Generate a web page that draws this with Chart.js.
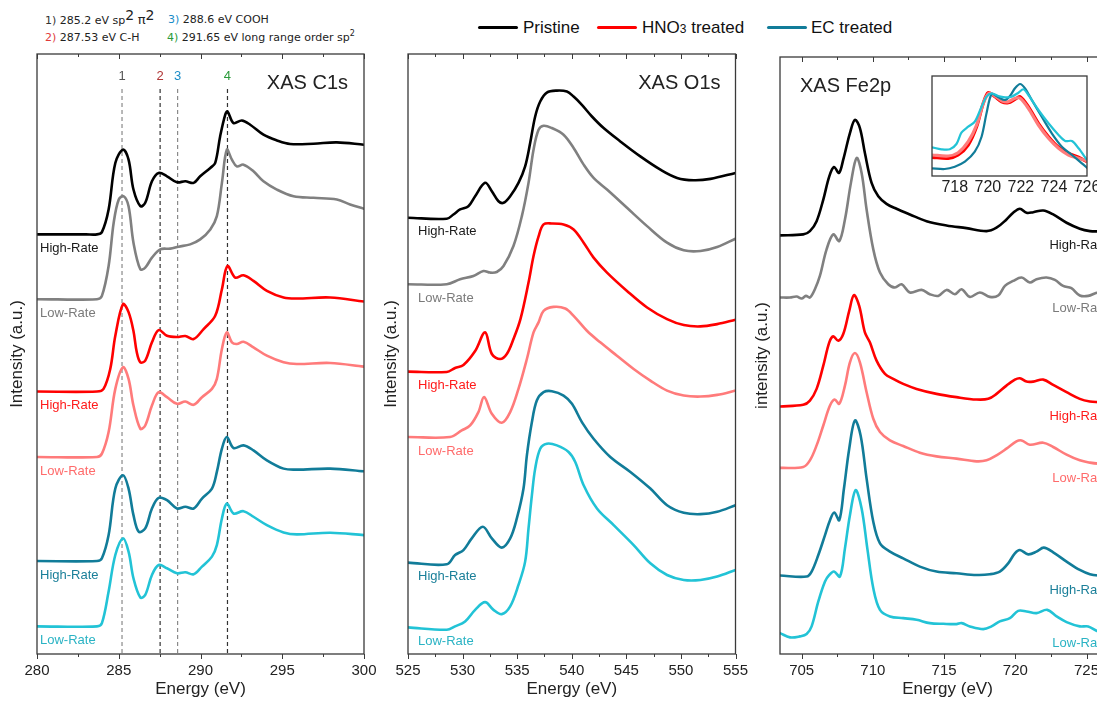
<!DOCTYPE html>
<html><head><meta charset="utf-8">
<script src="https://cdn.jsdelivr.net/npm/chart.js@4.4.1/dist/chart.umd.min.js"></script>
<style>
html,body{margin:0;padding:0;background:#fff;}
#wrap{position:relative;width:1097px;height:706px;overflow:hidden;background:#fff;}
canvas{position:absolute;left:0;top:0;}
.hdr{position:absolute;font-family:'DejaVu Sans',sans-serif;font-size:11px;color:#222;white-space:nowrap;line-height:13px;}
.big{font-size:14px;position:relative;top:-4px;}
.pi{font-size:13px;}
.small{font-size:8px;position:relative;top:-5px;}
.leg{position:absolute;top:18px;font-family:'Liberation Sans',Arial,sans-serif;font-size:17px;color:#111;white-space:nowrap;line-height:20px;}
.sub{font-size:12px;}
.sw{position:absolute;height:3px;top:26px;width:40px;border-radius:1.5px;}
</style>
</head><body>
<div id="wrap">
  <div class="hdr" style="left:45px;top:13px;"><span style="color:#333">1)</span> 285.2 eV sp<span class="big">2</span> <span class="pi">π</span><span class="big">2</span></div>
  <div class="hdr" style="left:168px;top:13px;"><span style="color:#1a8cc8">3)</span> 288.6 eV COOH</div>
  <div class="hdr" style="left:45px;top:31px;"><span style="color:#e03a3a">2)</span> 287.53 eV C-H</div>
  <div class="hdr" style="left:167px;top:31px;"><span style="color:#2a9a3a">4)</span> 291.65 eV long range order sp<span class="small">2</span></div>

  <div class="sw" style="left:478px;background:#000;"></div>
  <div class="leg" style="left:523px;">Pristine</div>
  <div class="sw" style="left:597px;background:#ff0000;"></div>
  <div class="leg" style="left:642px;">HNO<span class="sub">3</span> treated</div>
  <div class="sw" style="left:767px;background:#117c99;"></div>
  <div class="leg" style="left:811px;">EC treated</div>

  <canvas id="c1" width="1140" height="706"></canvas>
  <canvas id="c2" width="1140" height="706"></canvas>
  <canvas id="c3" width="1140" height="706"></canvas>
  <canvas id="c4" width="1140" height="706"></canvas>
</div>
<script>
// ---------------- DATA (energy eV, intensity a.u. incl. stacking offset) ----------------
const c1sPristineHigh = [[280,42.0],[283.0,42.0],[283.67,42.0],[283.97,42.23],[284.38,44.5],[284.79,49.17],[285.26,50.5],[285.6,49.5],[285.9,46.5],[286.32,44.83],[286.62,45.17],[287.03,47.33],[287.44,48.17],[287.95,47.83],[288.56,47.23],[289.07,47.33],[289.58,47.17],[289.98,47.83],[290.6,48.67],[290.9,49.17],[291.2,51.83],[291.51,54.0],[291.65,54.33],[292.02,53.17],[292.53,53.43],[293.04,53.0],[293.85,52.0],[294.67,51.43],[295.48,51.07],[296.91,51.1],[298.34,51.23],[300,51.0]];
const c1sPristineLow = [[280,35.5],[283.67,35.5],[283.97,35.83],[284.38,38.83],[284.69,43.17],[285.0,45.5],[285.3,45.83],[285.6,44.83],[285.9,41.17],[286.32,38.5],[286.62,38.67],[287.03,39.67],[287.54,40.5],[288.15,40.57],[288.66,40.77],[289.37,41.0],[289.98,41.5],[290.6,42.5],[291.0,43.83],[291.31,47.17],[291.61,50.5],[291.92,49.5],[292.22,48.83],[292.63,49.0],[293.24,48.33],[293.85,47.33],[294.67,46.5],[295.69,45.83],[296.91,45.67],[298.34,45.5],[299.15,45.0],[300,44.57]];
const c1sHno3High = [[280,26.23],[283.67,26.23],[284.07,26.5],[284.48,28.5],[284.79,31.83],[285.26,35.0],[285.6,34.2],[285.9,32.3],[286.1,30.2],[286.32,29.17],[286.62,29.33],[287.03,31.17],[287.44,32.4],[287.95,31.83],[288.56,31.7],[289.07,31.8],[289.58,31.5],[290.19,32.5],[290.9,33.83],[291.31,36.5],[291.65,38.83],[292.12,37.67],[292.63,37.9],[293.24,37.33],[294.06,36.33],[295.08,35.67],[295.89,35.57],[297.93,35.67],[300,35.27]];
const c1sHno3Low = [[280,19.67],[283.67,19.67],[283.97,20.0],[284.38,22.17],[284.79,26.5],[285.26,28.67],[285.6,27.5],[285.9,24.83],[286.32,22.5],[286.62,22.83],[287.03,24.83],[287.44,26.17],[287.95,25.67],[288.56,25.0],[289.07,25.23],[289.58,24.9],[290.09,25.67],[290.7,26.5],[291.0,27.5],[291.31,30.5],[291.61,32.17],[291.92,31.17],[292.22,31.0],[292.63,31.23],[293.24,30.67],[294.06,29.83],[295.08,29.17],[295.89,29.0],[297.93,29.1],[300,28.73]];
const c1sEcHigh = [[280,9.23],[283.67,9.23],[283.97,9.5],[284.38,11.83],[284.79,16.5],[285.26,17.83],[285.6,16.5],[285.9,13.83],[286.22,12.17],[286.62,12.5],[287.03,14.5],[287.44,15.57],[287.95,15.33],[288.56,14.5],[289.07,14.67],[289.58,14.5],[290.09,15.5],[290.7,16.5],[291.0,18.17],[291.31,20.5],[291.61,21.67],[292.02,20.57],[292.63,20.83],[293.24,20.33],[294.06,19.33],[295.08,18.5],[295.89,18.4],[297.93,18.5],[300,18.23]];
const c1sEcLow = [[280,2.67],[283.67,2.67],[283.97,3.0],[284.38,6.17],[284.79,9.83],[285.26,11.5],[285.6,10.17],[285.9,7.5],[286.32,5.57],[286.62,5.83],[287.03,7.83],[287.44,8.83],[287.95,8.5],[288.56,8.0],[289.07,8.1],[289.58,7.9],[290.09,8.67],[290.7,9.67],[291.0,10.83],[291.31,13.5],[291.61,15.0],[292.02,14.0],[292.63,14.23],[293.24,13.67],[294.06,12.83],[295.08,12.1],[295.89,11.9],[297.93,12.07],[300,11.83]];

const o1sPristineHigh = [[525,43.67],[528.55,43.57],[529.16,44.0],[529.77,44.5],[530.53,44.83],[531.15,45.83],[532.06,47.17],[532.68,46.33],[533.29,45.33],[533.75,45.17],[534.36,45.83],[535.12,47.17],[535.73,48.83],[536.19,51.17],[536.65,53.83],[537.11,55.33],[537.72,56.23],[538.64,56.43],[539.56,56.33],[540.17,55.83],[540.93,55.0],[541.85,53.83],[542.92,52.67],[544.45,51.33],[546.28,49.83],[548.12,48.5],[549.65,47.67],[551.18,47.43],[552.71,47.57],[555,48.17]];
const o1sPristineLow = [[525,37.0],[528.55,37.0],[529.77,37.5],[530.99,37.83],[531.91,38.33],[532.52,38.17],[533.13,38.23],[533.75,38.83],[534.66,40.83],[535.43,43.83],[536.04,47.17],[536.5,50.5],[536.96,52.5],[537.42,52.9],[538.18,52.67],[539.25,52.0],[540.17,50.67],[541.09,49.0],[542.0,47.67],[543.23,46.5],[545.06,44.67],[546.9,42.83],[548.73,41.17],[550.26,40.4],[551.79,40.33],[553.32,40.73],[555,41.57]];
const o1sHno3High = [[525,28.23],[528.55,28.2],[529.31,28.6],[530.08,28.9],[531.15,30.3],[532.06,32.17],[532.68,30.0],[533.44,29.5],[534.05,30.0],[534.66,31.5],[535.3,33.5],[536.04,37.17],[536.5,39.83],[536.96,41.8],[537.42,43.0],[538.18,43.1],[539.25,43.0],[540.17,42.5],[541.09,41.17],[542.0,39.67],[543.23,38.17],[545.06,36.33],[546.9,34.67],[548.73,33.5],[550.26,32.9],[551.79,32.77],[553.32,33.0],[555,33.43]];
const o1sHno3Low = [[525,21.67],[528.85,21.67],[529.92,22.33],[530.69,22.83],[531.45,24.17],[531.97,25.67],[532.68,24.0],[533.59,23.1],[534.36,24.17],[535.12,26.5],[535.89,29.5],[536.5,32.17],[536.96,33.17],[537.42,34.33],[538.33,34.73],[539.4,34.57],[540.17,33.83],[541.39,32.33],[542.61,31.17],[544.14,29.83],[545.67,28.5],[547.2,27.33],[548.73,26.33],[550.26,25.83],[551.79,25.73],[553.32,25.9],[555,26.33]];
const o1sEcHigh = [[525,9.07],[528.55,8.9],[529.31,9.83],[530.08,10.33],[530.84,11.5],[531.85,12.67],[532.68,11.5],[533.59,10.57],[534.36,11.5],[534.97,13.5],[535.58,16.5],[535.89,19.83],[536.35,23.17],[536.8,25.33],[537.42,26.17],[538.18,26.27],[539.25,25.83],[540.02,25.0],[540.93,23.17],[542.0,21.5],[543.53,19.67],[545.37,18.17],[547.2,16.5],[548.73,14.83],[550.26,14.07],[551.79,13.93],[553.32,14.17],[555,14.83]];
const o1sEcLow = [[525,2.57],[528.55,2.33],[529.31,2.67],[530.23,3.17],[531.15,4.33],[532.06,5.1],[532.83,4.33],[533.59,3.9],[534.36,4.67],[535.12,6.83],[535.73,9.17],[536.04,12.5],[536.35,15.83],[536.65,18.5],[537.11,20.5],[537.72,21.0],[538.64,20.83],[539.71,20.17],[540.32,19.17],[541.09,16.83],[542.31,14.5],[543.84,12.83],[545.67,10.83],[547.2,9.0],[548.73,7.83],[550.26,7.33],[551.79,7.33],[553.32,7.67],[555,8.33]];

const fe2pPristineHigh = [[703.48,41.9],[705.11,42.0],[705.58,42.33],[706.05,43.33],[706.52,45.5],[706.94,47.83],[707.27,48.77],[707.62,48.17],[707.92,49.5],[708.39,52.17],[708.74,53.5],[709.09,52.67],[709.44,50.17],[709.91,47.17],[710.38,45.83],[710.96,45.07],[711.66,44.57],[712.6,44.0],[713.77,43.33],[715.17,42.9],[716.57,42.63],[717.98,42.33],[718.68,42.67],[719.38,43.5],[719.85,44.17],[720.32,44.57],[720.79,44.17],[721.26,44.23],[721.96,44.4],[722.66,44.0],[723.6,43.17],[724.53,42.57],[725.24,42.33],[725.82,42.3],[727,42.3]];
const fe2pPristineLow = [[703.48,35.67],[704.18,35.67],[704.65,35.77],[705.0,35.57],[705.3,35.83],[705.58,35.67],[705.93,36.5],[706.28,37.83],[706.75,40.5],[707.22,42.0],[707.64,41.33],[708.04,43.5],[708.46,47.17],[708.86,49.67],[709.21,48.17],[709.56,44.5],[710.03,40.5],[710.5,38.17],[711.08,37.0],[711.55,36.67],[712.02,37.0],[712.6,36.17],[713.42,36.43],[714.0,36.0],[714.59,35.83],[715.17,36.43],[715.76,36.0],[716.23,36.5],[716.81,35.73],[717.51,36.17],[718.21,35.73],[718.8,35.87],[719.27,36.83],[719.85,37.33],[720.44,37.67],[721.02,37.17],[721.49,37.5],[722.19,37.67],[722.78,37.43],[723.36,36.83],[723.94,36.6],[724.53,35.87],[725.12,35.83],[725.82,36.17],[727,36.0]];
const fe2pHno3High = [[703.48,24.73],[705.11,24.9],[705.58,25.33],[706.05,26.5],[706.52,28.83],[706.94,31.17],[707.22,31.77],[707.57,31.33],[707.92,32.0],[708.34,34.33],[708.67,35.9],[709.04,34.83],[709.44,32.17],[709.79,31.17],[710.26,29.33],[710.85,28.0],[711.43,27.5],[712.13,27.0],[713.07,26.5],[714.47,26.0],[715.87,25.67],[717.28,25.43],[718.1,25.5],[718.68,26.0],[719.38,26.83],[719.97,27.43],[720.32,27.57],[720.79,27.23],[721.26,27.23],[721.96,27.43],[722.66,26.9],[723.6,26.17],[724.53,25.5],[725.24,25.23],[725.82,25.17],[727,25.1]];
const fe2pHno3Low = [[703.48,18.57],[705.11,18.67],[705.58,19.33],[706.05,20.83],[706.52,22.83],[706.99,24.83],[707.32,25.43],[707.64,25.0],[708.04,26.83],[708.39,29.17],[708.74,30.1],[709.09,29.17],[709.56,26.17],[710.03,23.5],[710.5,22.17],[711.2,21.33],[712.13,20.77],[713.3,20.1],[714.47,19.73],[715.87,19.5],[717.28,19.23],[717.98,19.33],[718.68,19.83],[719.38,20.5],[720.08,21.23],[720.44,21.33],[721.02,20.9],[721.96,21.1],[722.66,20.67],[723.6,19.9],[724.53,19.33],[725.24,19.1],[725.82,19.0],[727,18.95]];
const fe2pEcHigh = [[703.48,7.77],[705.35,7.67],[705.7,8.17],[706.17,9.83],[706.64,11.83],[706.99,13.33],[707.29,14.1],[707.64,13.33],[707.97,16.5],[708.34,20.5],[708.74,23.33],[709.14,21.83],[709.56,17.5],[710.03,13.17],[710.5,11.0],[711.2,10.17],[712.13,9.5],[713.3,8.67],[714.47,8.17],[715.87,8.0],[717.28,7.83],[718.21,7.9],[718.91,8.17],[719.5,9.0],[719.97,10.0],[720.32,10.33],[720.91,9.9],[721.49,10.17],[722.0,10.57],[722.66,10.1],[723.6,9.17],[724.53,8.33],[725.24,7.9],[725.82,7.77],[727,7.7]];
const fe2pEcLow = [[703.48,2.0],[704.18,1.57],[704.88,1.67],[705.35,1.9],[705.7,2.67],[706.17,5.17],[706.64,7.17],[706.94,7.83],[707.27,8.17],[707.69,7.67],[708.04,10.5],[708.39,13.83],[708.79,16.33],[709.21,14.5],[709.61,10.5],[710.03,6.5],[710.5,4.33],[711.2,3.67],[712.13,3.5],[713.07,3.33],[714.0,3.0],[714.94,2.93],[715.87,2.9],[716.23,3.0],[716.81,2.67],[717.75,2.4],[718.33,2.67],[718.91,3.17],[719.62,3.5],[720.2,4.23],[720.79,4.17],[721.49,4.0],[722.24,4.33],[722.9,3.67],[723.6,3.1],[724.53,2.67],[725.12,2.67],[725.82,2.17],[727,2.0]];

const insetHno3High = [[716.62,18.7],[717.6,17.7],[718.2,21],[718.81,31],[719.32,49.3],[719.72,72.7],[720.02,83.3],[720.43,79.3],[720.83,74.3],[721.24,73.3],[721.64,76.7],[721.95,79.3],[722.45,69.3],[723.06,52.7],[723.67,39.3],[724.28,28.7],[724.88,22.7],[725.49,18.7],[726.0,14.3]];
const insetHno3Low = [[716.62,21],[717.6,20],[718.2,23.3],[718.81,34.3],[719.32,51],[719.72,72.7],[720.06,82.7],[720.43,80],[720.83,75.3],[721.24,74.3],[721.64,77.7],[721.95,77.7],[722.45,67.7],[723.06,51],[723.67,37.7],[724.28,27.7],[724.88,21],[725.49,17.7],[726.0,15.3]];
const insetEcHigh = [[716.62,7.67],[717.39,7.0],[718.0,9.33],[718.61,14.3],[719.21,24.3],[719.62,39.3],[719.92,62.7],[720.23,82],[720.63,78.7],[721.04,76],[721.34,80],[721.64,87.7],[721.95,92],[722.25,87.7],[722.66,76],[723.26,59.3],[723.87,42.7],[724.48,29.3],[725.09,21],[725.69,12.7],[726.04,7.67]];
const insetEcLow = [[716.62,28.7],[717.19,26.7],[717.7,26.7],[718.1,32],[718.4,43.3],[718.81,49.3],[719.21,54.3],[719.62,69.3],[719.92,79.3],[720.23,82.7],[720.63,80],[721.04,78.7],[721.44,79.3],[721.85,83.3],[722.15,86.7],[722.45,81],[723.06,66],[723.67,52.7],[724.28,41],[724.68,35],[725.09,35],[725.49,27.7],[726.0,16]];

const rateNames = ['High-Rate','Low-Rate','High-Rate','Low-Rate','High-Rate','Low-Rate'];
const peakEnergies = [285.2, 287.53, 288.6, 291.65];
const peakNumbers = ['1','2','3','4'];
const peakLineTop = 56.7;
const panelTitles = ['XAS C1s','XAS O1s','XAS Fe2p'];
const yTitles = ['Intensity (a.u.)','Intensity (a.u.)','intensity (a.u.)'];
const xTitle = 'Energy (eV)';

// ---------------- STYLE ----------------
const lineColors = ['#000000','#808080','#ff0000','#ff7b7b','#117c99','#22c3d6'];
const textColors = ['#1a1a1a','#7a7a7a','#ff1a1a','#ff6b6b','#1a7f99','#2ab3c4'];
const peakLineColors = ['#8a8a8a','#333333','#8a8a8a','#333333'];
const peakTextColors = ['#555555','#b03535','#1a8cc8','#2a9a3a'];
const FONT = "'Liberation Sans', Arial, sans-serif";
const W = 1140, H = 706;

Chart.defaults.font.family = FONT;
Chart.defaults.color = '#222';

function toXY(a){ return a.map(p => ({x:p[0], y:p[1]})); }
function fixW(w){ return s => { s.width = w; s.paddingTop = 0; s.paddingBottom = 0; }; }
function fixH(h){ return s => { s.height = h; s.paddingLeft = 0; s.paddingRight = 0; }; }

function decor(p){
  return {
    id: 'decor' + p.id,
    beforeDraw(chart){
      if (!p.fillWhite) return;
      const ca = chart.chartArea, ctx = chart.ctx;
      ctx.save(); ctx.fillStyle = '#fff';
      ctx.fillRect(ca.left, ca.top, ca.right - ca.left, ca.bottom - ca.top);
      ctx.restore();
    },
    afterDraw(chart){
      const ctx = chart.ctx, ca = chart.chartArea, xs = chart.scales.x, ys = chart.scales.y;
      ctx.save();
      ctx.strokeStyle = '#3a3a3a'; ctx.lineWidth = 1.3;
      ctx.strokeRect(ca.left, ca.top, ca.right - ca.left, ca.bottom - ca.top);
      if (p.minor) {
        ctx.lineWidth = 1;
        const start = Math.ceil(xs.min / p.minor - 1e-9) * p.minor;
        for (let v = start; v <= xs.max + 1e-9; v += p.minor) {
          const px = Math.round(xs.getPixelForValue(v)) + 0.5;
          const r = v / p.major;
          const isMajor = Math.abs(r - Math.round(r)) < 1e-6;
          const L = isMajor ? 5 : 3;
          ctx.beginPath();
          ctx.moveTo(px, ca.bottom); ctx.lineTo(px, ca.bottom + L);
          ctx.moveTo(px, ca.top); ctx.lineTo(px, ca.top + L);
          ctx.stroke();
        }
      }
      if (p.series) {
        ctx.font = '13px ' + FONT;
        ctx.textBaseline = 'middle';
        p.series.forEach((s, i) => {
          const pt = p.side === 'left' ? s[0] : s[s.length - 1];
          let y = ys.getPixelForValue(pt[1]) + 14;
          y = Math.min(y, ca.bottom - 11);
          ctx.fillStyle = textColors[i];
          if (p.side === 'left') { ctx.textAlign = 'left'; ctx.fillText(rateNames[i], ca.left + p.inset, y); }
          else { ctx.textAlign = 'right'; ctx.fillText(rateNames[i], ca.right - p.inset, y); }
        });
      }
      if (p.peaks) {
        ctx.font = '13px ' + FONT; ctx.textAlign = 'center'; ctx.textBaseline = 'middle';
        peakEnergies.forEach((e, i) => {
          ctx.fillStyle = peakTextColors[i];
          ctx.fillText(peakNumbers[i], xs.getPixelForValue(e), ys.getPixelForValue(peakLineTop) - 11);
        });
      }
      if (p.title) {
        ctx.font = '20px ' + FONT; ctx.fillStyle = '#222'; ctx.textBaseline = 'middle';
        if (p.titleAlign === 'right') { ctx.textAlign = 'right'; ctx.fillText(p.title, ca.right - p.titleDx, ca.top + 29); }
        else { ctx.textAlign = 'left'; ctx.fillText(p.title, ca.left + p.titleDx, ca.top + 29); }
      }
      ctx.restore();
    }
  };
}

function seriesDatasets(series, width){
  return series.map((s, i) => ({
    data: toXY(s), borderColor: lineColors[i], borderWidth: width, pointRadius: 0,
    tension: 0.35, fill: false, borderJoinStyle: 'round', borderCapStyle: 'round', order: 1
  }));
}

function makePanel(id, cfg){
  const datasets = seriesDatasets(cfg.series, 2.6).concat(cfg.extra || []);
  return new Chart(document.getElementById(id), {
    type: 'line',
    data: { datasets },
    plugins: [decor({ id, series: cfg.series, side: cfg.side, inset: cfg.inset, minor: cfg.minor, major: cfg.major,
                      peaks: cfg.peaks, title: cfg.title, titleAlign: cfg.titleAlign, titleDx: cfg.titleDx })],
    options: {
      responsive: false, animation: false, devicePixelRatio: 1, events: [],
      layout: { padding: { left: cfg.padLeft, top: cfg.top, right: W - cfg.right, bottom: 6 } },
      plugins: { legend: { display: false }, tooltip: { enabled: false } },
      scales: {
        x: { type: 'linear', min: cfg.xMin, max: cfg.xMax, afterFit: fixH(H - 6 - 654),
             grid: { display: false }, border: { display: false },
             ticks: { stepSize: cfg.major, includeBounds: false, padding: 0, maxRotation: 0, autoSkip: false,
                      color: '#222', font: { size: 15 }, callback: v => String(v) },
             title: { display: true, text: xTitle, color: '#222', font: { size: 17 }, padding: { top: 0, bottom: 0 } } },
        y: { min: -0.1, max: cfg.yMax, afterFit: fixW(cfg.yWidth),
             grid: { display: false }, border: { display: false }, ticks: { display: false },
             title: { display: true, text: cfg.yTitle, color: '#222', font: { size: 17 }, padding: { top: 7, bottom: 0 } } }
      }
    }
  });
}

const peakLineDatasets = peakEnergies.map((e, i) => ({
  data: [{x: e, y: 0}, {x: e, y: peakLineTop}], borderColor: peakLineColors[i], borderWidth: 1.2,
  borderDash: [4, 3], pointRadius: 0, fill: false, tension: 0, order: 10
}));

makePanel('c1', { series: [c1sPristineHigh, c1sPristineLow, c1sHno3High, c1sHno3Low, c1sEcHigh, c1sEcLow],
  xMin: 280, xMax: 300, major: 5, minor: 2.5, padLeft: 0, yWidth: 37, right: 364, top: 54, yMax: 60.1,
  yTitle: yTitles[0], side: 'left', inset: 3, peaks: true, extra: peakLineDatasets,
  title: panelTitles[0], titleAlign: 'right', titleDx: 16 });

makePanel('c2', { series: [o1sPristineHigh, o1sPristineLow, o1sHno3High, o1sHno3Low, o1sEcHigh, o1sEcLow],
  xMin: 525, xMax: 555, major: 5, minor: 2.5, padLeft: 374, yWidth: 34, right: 735.5, top: 54, yMax: 60.1,
  yTitle: yTitles[1], side: 'left', inset: 10,
  title: panelTitles[1], titleAlign: 'right', titleDx: 15 });

makePanel('c3', { series: [fe2pPristineHigh, fe2pPristineLow, fe2pHno3High, fe2pHno3Low, fe2pEcHigh, fe2pEcLow],
  xMin: 703.48, xMax: 727, major: 5, minor: 2.5, padLeft: 745, yWidth: 35, right: 1115, top: 57, yMax: 59.8,
  yTitle: yTitles[2], side: 'right', inset: 7,
  title: panelTitles[2], titleAlign: 'left', titleDx: 20 });

// inset (Fe L2 edge zoom)
const insetSeries = [insetHno3High, insetHno3Low, insetEcHigh, insetEcLow];
const insetColors = [lineColors[2], lineColors[3], lineColors[4], lineColors[5]];
const insetWidths = [3.2, 3.2, 2.2, 2.2];
new Chart(document.getElementById('c4'), {
  type: 'line',
  data: { datasets: insetSeries.map((s, i) => ({ data: toXY(s), borderColor: insetColors[i], borderWidth: insetWidths[i],
     pointRadius: 0, tension: 0.3, fill: false, borderJoinStyle: 'round', order: 4 - i })) },
  plugins: [decor({ id: 'inset', fillWhite: true })],
  options: {
    responsive: false, animation: false, devicePixelRatio: 1, events: [],
    layout: { padding: { left: 932, top: 76, right: W - 1087, bottom: H - 200 } },
    plugins: { legend: { display: false }, tooltip: { enabled: false } },
    scales: {
      x: { type: 'linear', min: 716.62, max: 726, afterFit: fixH(24), grid: { display: false }, border: { display: false },
           ticks: { stepSize: 2, includeBounds: false, padding: -6, maxRotation: 0, autoSkip: false, color: '#222',
                    font: { size: 16 }, callback: v => String(v) } },
      y: { display: false, min: 0, max: 100 }
    }
  }
});
</script>
</body></html>
